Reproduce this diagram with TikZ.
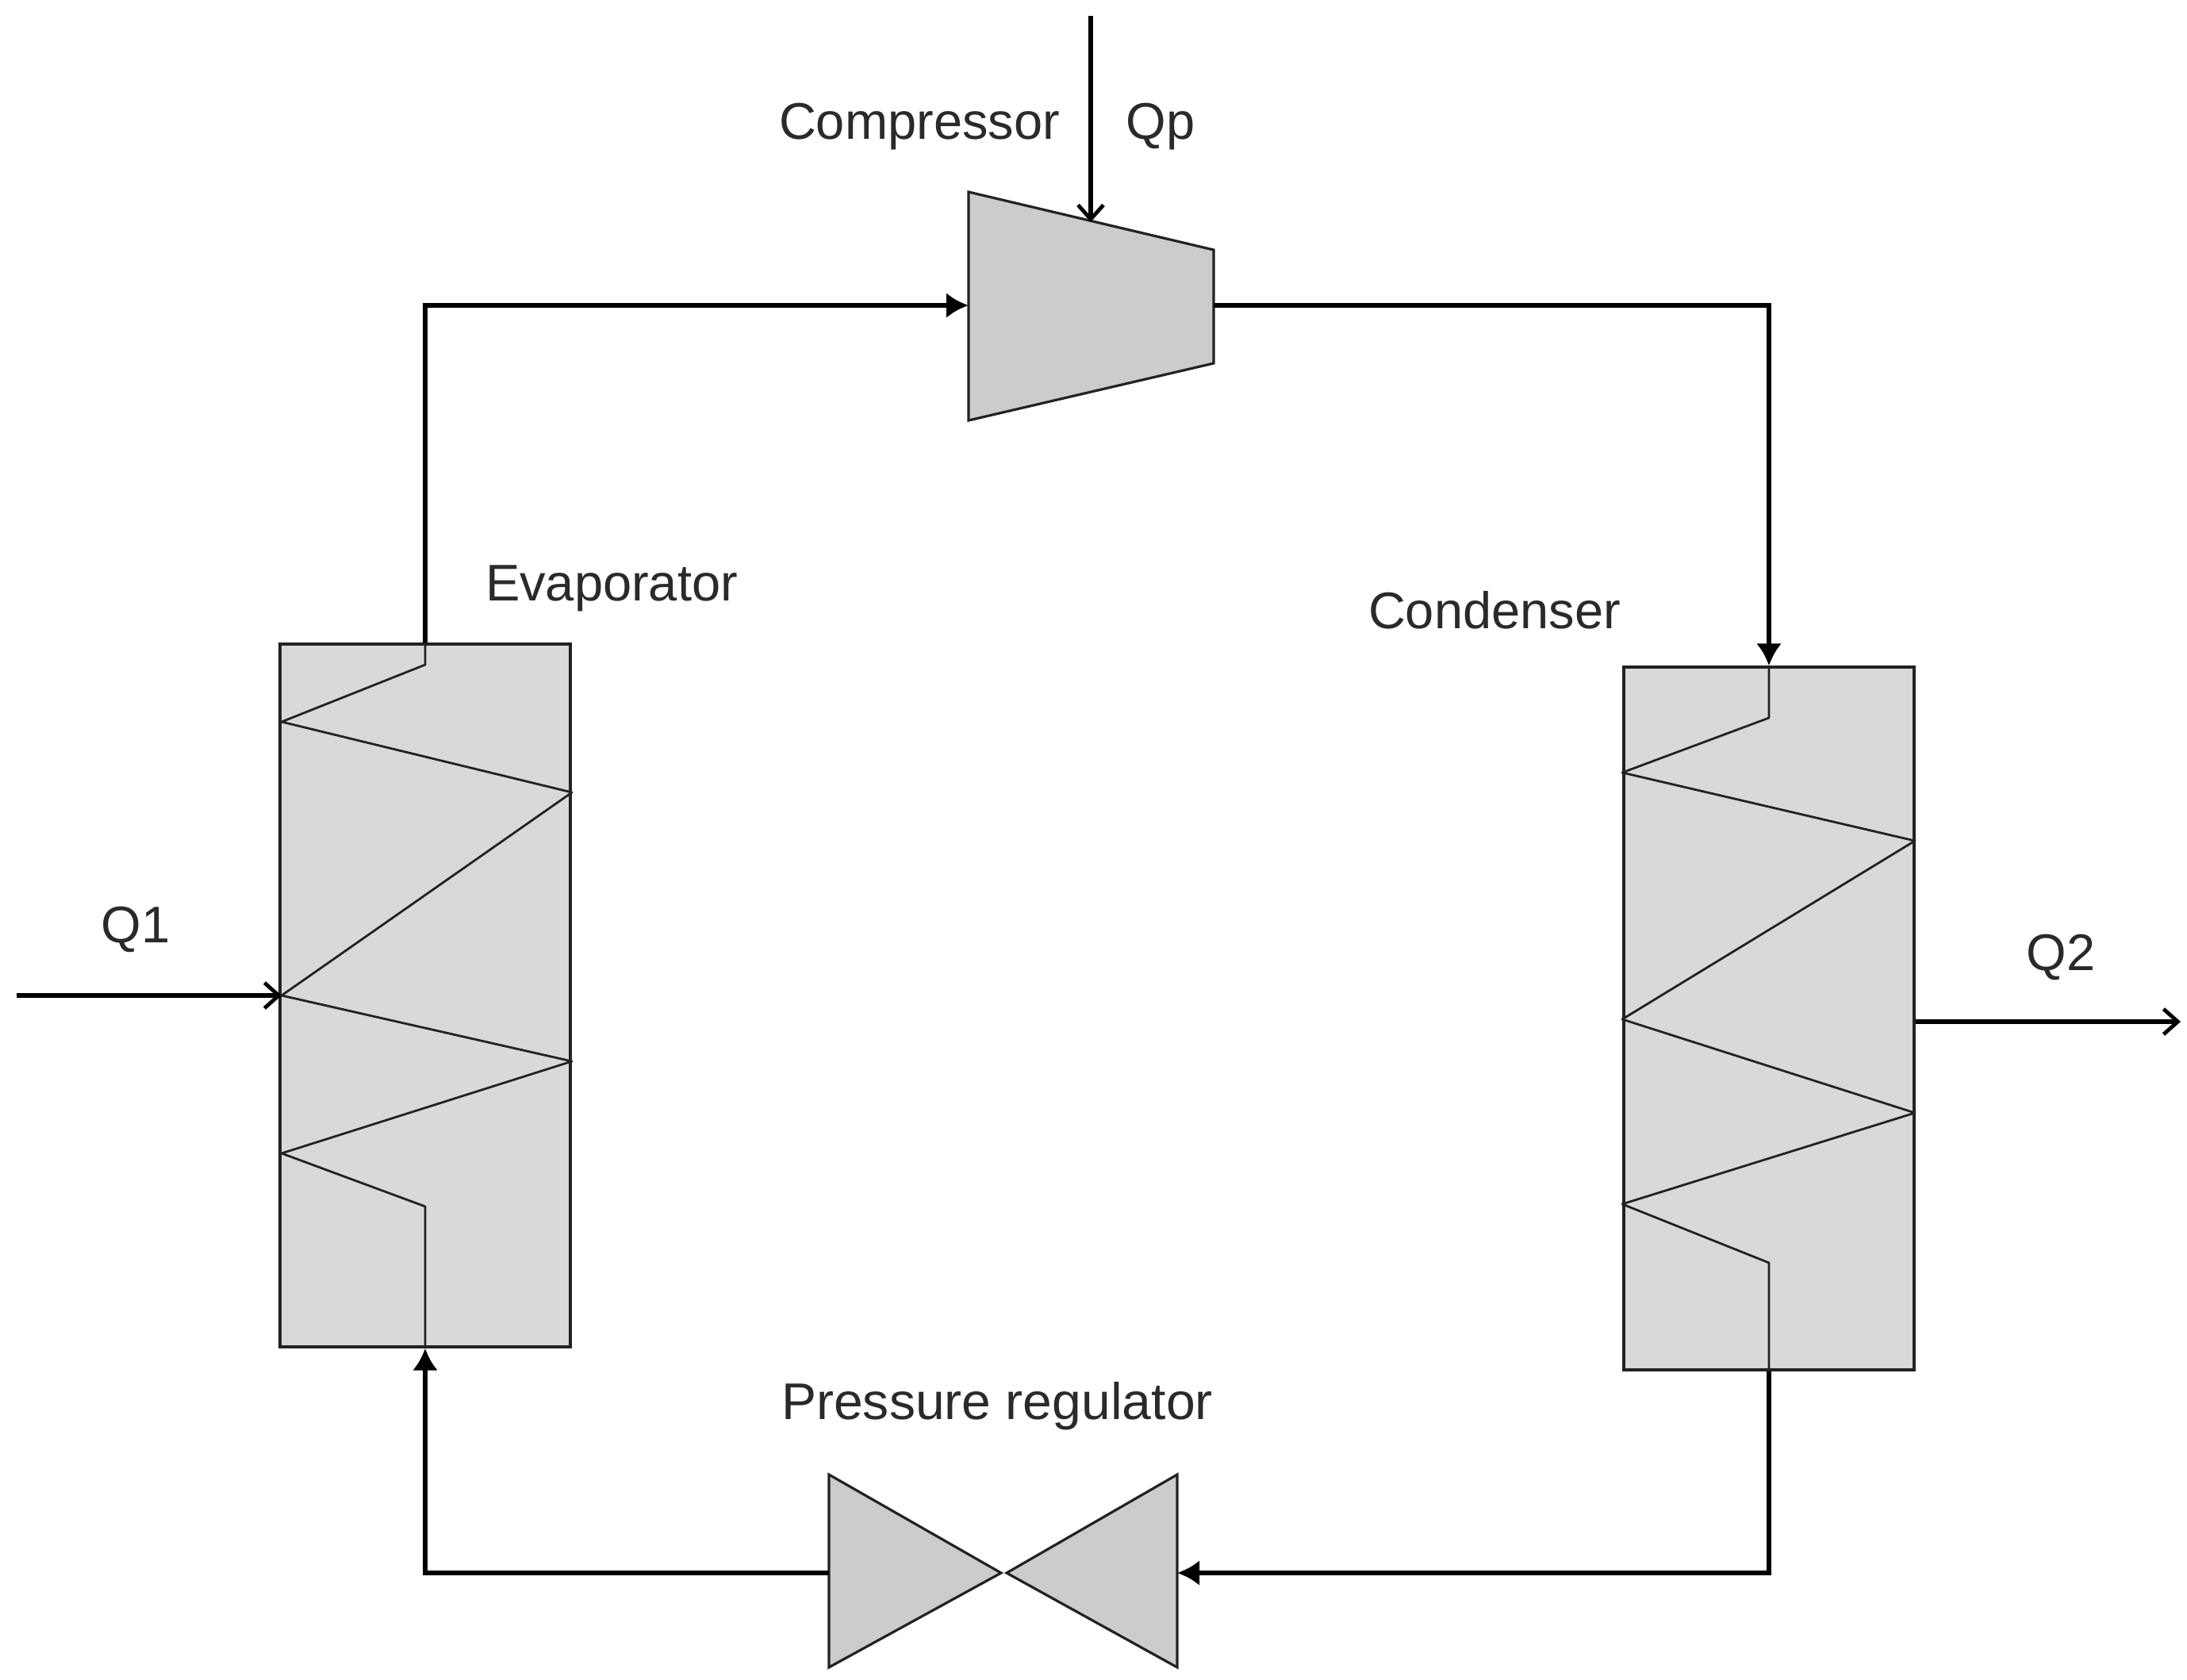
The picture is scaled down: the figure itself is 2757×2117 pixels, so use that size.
\documentclass[tikz,border=0pt]{standalone}
\usepackage{fontspec}
\setmainfont{Liberation Sans}
\usetikzlibrary{arrows.meta}
\definecolor{boxfill}{HTML}{D9D9D9}
\definecolor{machfill}{HTML}{CCCCCC}
\definecolor{inkline}{HTML}{222222}
\definecolor{labelink}{HTML}{2A2A2A}
\tikzset{
  exch/.style={draw=inkline,fill=boxfill,line width=1.6pt,rectangle,inner sep=0pt,minimum width=183pt,minimum height=443pt},
  mach/.style={draw=inkline,fill=machfill,line width=1.6pt,line join=miter},
  coil/.style={draw=inkline,line width=1.4pt,line join=round},
  pipe/.style={draw=black,line width=3pt,line join=miter},
  flowtip/.style={-{Latex[length=14pt,width=16pt]}},
  heattip/.style={-{Straight Barb[length=9pt,width=16pt,line width=2.4pt]}},
  lab/.style={text=labelink,inner sep=0pt,font=\fontsize{32.5}{36}\selectfont,anchor=center}
}
\begin{document}
\begin{tikzpicture}[x=0.5pt,y=-0.5pt]
\useasboundingbox (0,0) rectangle (2757,2117);
% named points
\coordinate (cinTL) at (1221,242);
\coordinate (cinTR) at (1530,315);
\coordinate (cinBR) at (1530,458);
\coordinate (cinBL) at (1221,530);
\coordinate (cin) at (1221,385);
\coordinate (cout) at (1530,385);
\coordinate (corA) at (536,385);
\coordinate (corB) at (2230,385);
\coordinate (corC) at (2230,1983);
\coordinate (corD) at (536,1983);
\coordinate (qpstart) at (1375,20);
\coordinate (qpend) at (1375,280);
\coordinate (q1start) at (21,1255);
\coordinate (q1end) at (355,1255);
\coordinate (q2end) at (2749,1288);
\coordinate (vL1) at (1045,1859);
\coordinate (vLm) at (1262,1983);
\coordinate (vL2) at (1045,2102);
\coordinate (vR1) at (1484,1859);
\coordinate (vRm) at (1269,1983);
\coordinate (vR2) at (1484,2102);
\coordinate (vLin) at (1045,1983);
\coordinate (vRin) at (1484,1983);
% exchangers
\node[exch] (evap) at (536,1255) {};
\node[exch] (cond) at (2230,1284) {};
% coils
\draw[coil] (evap.north) -- (536,838) -- (355,910) -- (721,999) -- (355,1255) -- (721,1338) -- (355,1454) -- (536,1521) -- (evap.south);
\draw[coil] (cond.north) -- (2230,905) -- (2045,974) -- (2414,1060) -- (2045,1285) -- (2414,1403) -- (2045,1518) -- (2230,1592) -- (cond.south);
% machines
\draw[mach] (cinTL) -- (cinTR) -- (cinBR) -- (cinBL) -- cycle;
\draw[mach] (vL1) -- (vLm) -- (vL2) -- cycle;
\draw[mach] (vR1) -- (vRm) -- (vR2) -- cycle;
% pipes
\draw[pipe,flowtip] (evap.north) -- (corA) -- (cin);
\draw[pipe,flowtip] (cout) -- (corB) -- (cond.north);
\draw[pipe,flowtip] (cond.south) -- (corC) -- (vRin);
\draw[pipe,flowtip] (vLin) -- (corD) -- (evap.south);
% heat flows
\draw[pipe,heattip] (qpstart) -- (qpend);
\draw[pipe,heattip] (q1start) -- (q1end);
\draw[pipe,heattip] (cond.east |- q2end) -- (q2end);
% labels
\node[lab] (tcomp) at (1159,160) {Compressor};
\node[lab] (tqp) at (1463,160) {Qp};
\node[lab] (tevap) at (771,742) {Evaporator};
\node[lab] (tcond) at (1884,769) {Condenser};
\node[lab] (tq1) at (171,1172) {Q1};
\node[lab] (tq2) at (2598,1207) {Q2};
\node[lab,xscale=1.017] (treg) at (1257,1773) {Pressure regulator};
\end{tikzpicture}
\end{document}
